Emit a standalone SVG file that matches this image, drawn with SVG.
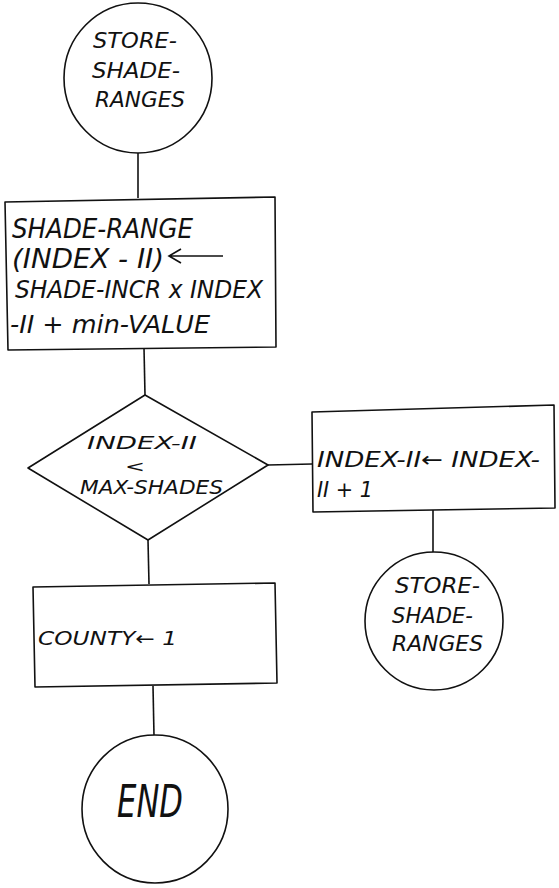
<svg xmlns="http://www.w3.org/2000/svg" width="559" height="888" viewBox="0 0 559 888">
  <style>
    .shape { fill: #ffffff; stroke: #111111; stroke-width: 1.6; stroke-linejoin: round; }
    .wire { fill: none; stroke: #111111; stroke-width: 1.6; }
    .hand { font-family: "DejaVu Sans", "Liberation Sans", sans-serif; font-style: italic; fill: #111111; }
  </style>
  <rect width="559" height="888" fill="#ffffff"/>

  <!-- connectors -->
  <g id="connectors">
    <path class="wire" d="M138,152 L138,198"/>
    <path class="wire" d="M144,348 L145,395"/>
    <path class="wire" d="M268,465 L312,464"/>
    <path class="wire" d="M433,508 L433,553"/>
    <path class="wire" d="M148,540 L149,584"/>
    <path class="wire" d="M153,686 L154,736"/>
  </g>

  <!-- start terminator -->
  <g id="start">
    <ellipse class="shape" cx="138" cy="78" rx="74" ry="75"/>
    <text class="hand" font-size="22" x="93" y="48" textLength="84" lengthAdjust="spacingAndGlyphs">STORE-</text>
    <text class="hand" font-size="22" x="92" y="78" textLength="88" lengthAdjust="spacingAndGlyphs">SHADE-</text>
    <text class="hand" font-size="22" x="95" y="107" textLength="90" lengthAdjust="spacingAndGlyphs">RANGES</text>
  </g>

  <!-- shade range assignment -->
  <g id="assign-range">
    <path class="shape" d="M5,202 L275,197 L276,347 L8,350 Z"/>
    <text class="hand" font-size="26" x="12" y="238" textLength="181" lengthAdjust="spacingAndGlyphs">SHADE-RANGE</text>
    <text class="hand" font-size="26" x="12" y="268" textLength="152" lengthAdjust="spacingAndGlyphs">(INDEX - II)</text>
    <path class="wire" d="M223,256 L170,256 M181,249 L169,256 L181,263" stroke-width="2.4"/>
    <text class="hand" font-size="24" x="15" y="298" textLength="248" lengthAdjust="spacingAndGlyphs">SHADE-INCR x INDEX</text>
    <text class="hand" font-size="24" x="10" y="333" textLength="200" lengthAdjust="spacingAndGlyphs">-II + min-VALUE</text>
  </g>

  <!-- loop test -->
  <g id="test-index">
    <path class="shape" d="M145,395 L268,465 L148,540 L28,468 Z"/>
    <text class="hand" font-size="18" x="87" y="449" textLength="110" lengthAdjust="spacingAndGlyphs">INDEX-II</text>
    <text class="hand" font-size="16" x="125" y="472" textLength="20" lengthAdjust="spacingAndGlyphs">&lt;</text>
    <text class="hand" font-size="19" x="80" y="494" textLength="143" lengthAdjust="spacingAndGlyphs">MAX-SHADES</text>
  </g>

  <!-- increment -->
  <g id="increment">
    <path class="shape" d="M312,412 L554,405 L555,508 L313,512 Z"/>
    <text class="hand" font-size="21" x="317" y="467" textLength="223" lengthAdjust="spacingAndGlyphs">INDEX-II← INDEX-</text>
    <text class="hand" font-size="21" x="317" y="497" textLength="56" lengthAdjust="spacingAndGlyphs">II + 1</text>
  </g>

  <!-- recursive call -->
  <g id="store-again">
    <circle class="shape" cx="434" cy="621" r="69"/>
    <text class="hand" font-size="22" x="395" y="593" textLength="85" lengthAdjust="spacingAndGlyphs">STORE-</text>
    <text class="hand" font-size="22" x="392" y="623" textLength="81" lengthAdjust="spacingAndGlyphs">SHADE-</text>
    <text class="hand" font-size="22" x="392" y="651" textLength="91" lengthAdjust="spacingAndGlyphs">RANGES</text>
  </g>

  <!-- county reset -->
  <g id="county-reset">
    <path class="shape" d="M33,587 L275,583 L277,683 L35,687 Z"/>
    <text class="hand" font-size="19" x="38" y="645" textLength="139" lengthAdjust="spacingAndGlyphs">COUNTY← 1</text>
  </g>

  <!-- end terminator -->
  <g id="end">
    <ellipse class="shape" cx="155" cy="809" rx="73" ry="74"/>
    <text class="hand" font-size="44" x="117" y="817" textLength="66" lengthAdjust="spacingAndGlyphs" font-style="normal">END</text>
  </g>
</svg>
